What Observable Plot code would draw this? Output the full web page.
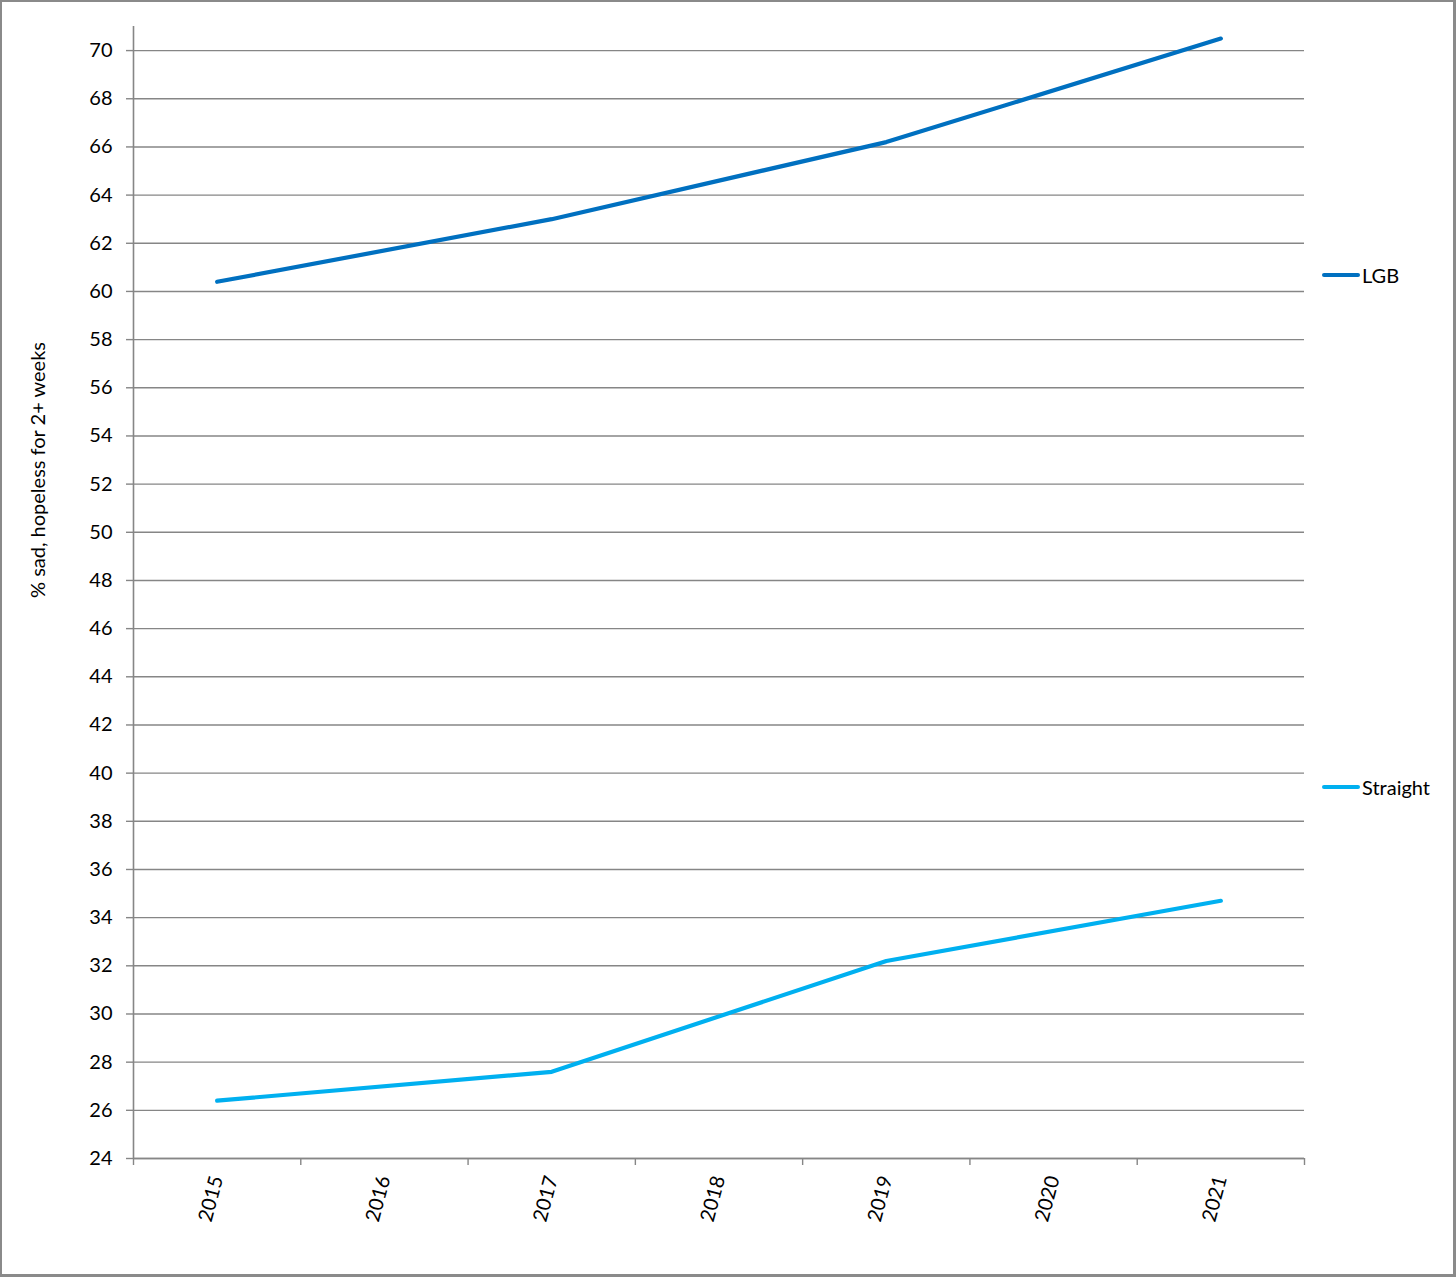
<!DOCTYPE html>
<html>
<head>
<meta charset="utf-8">
<script src="https://cdn.jsdelivr.net/npm/d3@7"></script>
<script src="https://cdn.jsdelivr.net/npm/@observablehq/plot@0.6"></script>
<style>
  html, body { margin: 0; padding: 0; background: #fff; }
  #frame { position: absolute; left: 0; top: 0; width: 1456px; height: 1277px; box-sizing: border-box; border: 2px solid #8a8a8a; border-right-width: 3px; border-bottom-width: 3px; }
  #chart { position: absolute; left: 0; top: 0; }
  .ytitle { position: absolute; left: 37px; top: 470px; transform: translate(-50%, -50%) rotate(-90deg); white-space: nowrap; font-family: Lato, "Open Sans", sans-serif; font-size: 20px; color: #000; }
  .leg { position: absolute; display: flex; align-items: center; font-family: Lato, "Open Sans", sans-serif; font-size: 20px; color: #000; transform: translateY(-50%); }
  .leg .sw { width: 38px; height: 4px; border-radius: 2px; margin-right: 2px; }
</style>
</head>
<body>
<div id="chart"></div>
<div id="frame"></div>
<script>
const years = [2015, 2016, 2017, 2018, 2019, 2020, 2021];
const surveyYears = [2015, 2017, 2019, 2021];
const lgb = [60.4, 63.0, 66.2, 70.5];
const straight = [26.4, 27.6, 32.2, 34.7];
const seriesNames = ["LGB", "Straight"];
const seriesColors = ["#0070C0", "#00B0F0"];
const yTicks = d3.range(24, 71, 2);
const yTitle = "% sad, hopeless for 2+ weeks";

const data = [
  ...surveyYears.map((y, i) => ({year: y, value: lgb[i], series: "LGB"})),
  ...surveyYears.map((y, i) => ({year: y, value: straight[i], series: "Straight"}))
];
const boundaries = [years[0] - 0.5, ...years.map(y => y + 0.5)];
const font = "Lato, 'Open Sans', sans-serif";
const grey = "#868686";

const plot = Plot.plot({
  width: 1456,
  height: 1277,
  marginLeft: 133,
  marginRight: 152,
  marginTop: 26,
  marginBottom: 119,
  style: {fontFamily: font, fontSize: "20px", color: "#000", background: "transparent"},
  x: {domain: [boundaries[0], boundaries[boundaries.length - 1]]},
  y: {domain: [24, 71]},
  color: {domain: seriesNames, range: seriesColors},
  marks: [
    Plot.gridY(yTicks, {stroke: grey, strokeOpacity: 1, strokeWidth: 1.4}),
    Plot.axisY({ticks: yTicks, tickSize: 7, tickPadding: 14, stroke: grey, strokeWidth: 1.4, label: null, fontSize: 20}),
    Plot.axisX({ticks: boundaries, tickSize: 7, tickFormat: () => "", stroke: grey, strokeWidth: 1.4, label: null}),
    Plot.axisX({ticks: years, tickSize: 0, tickPadding: 18, tickRotate: -75, tickFormat: d => String(d), label: null, fontSize: 20}),
    Plot.ruleX([boundaries[0]], {stroke: grey, strokeWidth: 1.6}),
    Plot.ruleY([24], {stroke: grey, strokeWidth: 1.6}),
    Plot.line(data, {x: "year", y: "value", z: "series", stroke: "series", strokeWidth: 4.2, strokeLinecap: "round", strokeLinejoin: "round"})
  ]
});
document.getElementById("chart").appendChild(plot);

// y title
const t = document.createElement("div");
t.className = "ytitle";
t.textContent = yTitle;
document.body.appendChild(t);

// legend
const legendPos = [{left: 1322, top: 275}, {left: 1322, top: 787}];
seriesNames.forEach((name, i) => {
  const el = document.createElement("div");
  el.className = "leg";
  el.style.left = legendPos[i].left + "px";
  el.style.top = legendPos[i].top + "px";
  const sw = document.createElement("div");
  sw.className = "sw";
  sw.style.background = seriesColors[i];
  const lab = document.createElement("span");
  lab.textContent = name;
  el.appendChild(sw);
  el.appendChild(lab);
  document.body.appendChild(el);
});
</script>
</body>
</html>
